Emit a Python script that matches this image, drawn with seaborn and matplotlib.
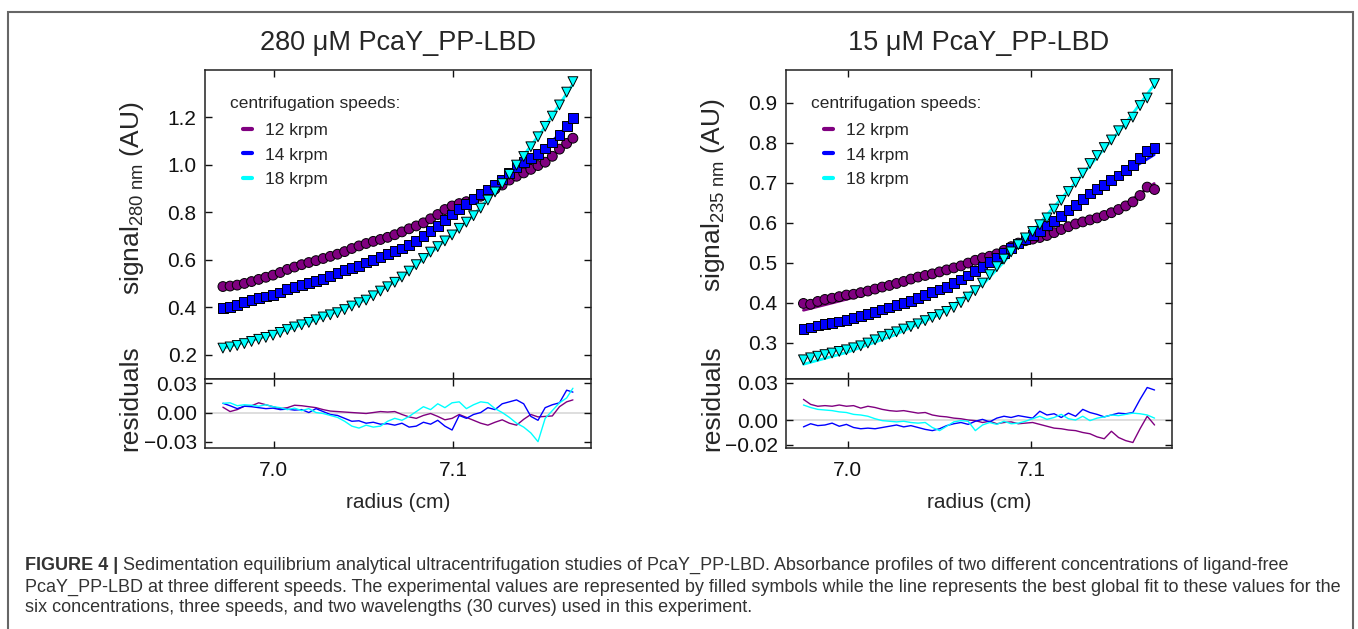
import matplotlib
matplotlib.use("Agg")
import pandas as pd
import matplotlib.pyplot as plt
from matplotlib.lines import Line2D
from matplotlib.patches import Rectangle
import seaborn as sns

# === Hardcoded data ===
speeds = ["12 krpm", "14 krpm", "18 krpm"]

# 280 uM panel, signal at 280 nm
radius_280 = [6.9715, 6.9755, 6.9795, 6.9835, 6.9875, 6.9915, 6.9955, 6.9995, 7.0035, 7.0075,
              7.0115, 7.0155, 7.0195, 7.0235, 7.0275, 7.0315, 7.0355, 7.0395, 7.0435, 7.0475,
              7.0515, 7.0555, 7.0595, 7.0635, 7.0675, 7.0715, 7.0755, 7.0795, 7.0835, 7.0875,
              7.0915, 7.0955, 7.0995, 7.1035, 7.1075, 7.1115, 7.1155, 7.1195, 7.1235, 7.1275,
              7.1315, 7.1355, 7.1395, 7.1435, 7.1475, 7.1515, 7.1555, 7.1595, 7.1635, 7.1670]
sig280_12 = [0.488, 0.490, 0.494, 0.501, 0.509, 0.518, 0.527, 0.536, 0.547, 0.560,
             0.570, 0.580, 0.589, 0.597, 0.606, 0.615, 0.624, 0.635, 0.648, 0.659,
             0.669, 0.678, 0.686, 0.695, 0.706, 0.718, 0.731, 0.743, 0.756, 0.773,
             0.791, 0.812, 0.827, 0.837, 0.845, 0.854, 0.868, 0.882, 0.898, 0.915,
             0.936, 0.952, 0.966, 0.981, 0.997, 1.011, 1.036, 1.066, 1.090, 1.112]
sig280_14 = [0.397, 0.402, 0.412, 0.422, 0.432, 0.440, 0.446, 0.452, 0.463, 0.476,
             0.486, 0.495, 0.504, 0.512, 0.521, 0.533, 0.545, 0.556, 0.565, 0.576,
             0.589, 0.601, 0.613, 0.624, 0.636, 0.648, 0.663, 0.680, 0.700, 0.721,
             0.743, 0.767, 0.791, 0.814, 0.834, 0.855, 0.876, 0.896, 0.917, 0.938,
             0.966, 0.992, 1.013, 1.030, 1.047, 1.069, 1.094, 1.125, 1.162, 1.196]
sig280_18 = [0.229, 0.234, 0.240, 0.248, 0.257, 0.266, 0.274, 0.283, 0.295, 0.307,
             0.318, 0.327, 0.337, 0.348, 0.360, 0.369, 0.378, 0.391, 0.406, 0.420,
             0.431, 0.449, 0.469, 0.487, 0.506, 0.528, 0.553, 0.580, 0.606, 0.633,
             0.656, 0.680, 0.705, 0.733, 0.759, 0.786, 0.818, 0.852, 0.886, 0.921,
             0.960, 0.999, 1.035, 1.076, 1.118, 1.162, 1.205, 1.252, 1.306, 1.350]
fit_radius_280 = [6.9715, 6.99, 7.01, 7.03, 7.05, 7.07, 7.09, 7.11, 7.13, 7.15, 7.167]
fit280_12 = [0.484, 0.513, 0.560, 0.610, 0.662, 0.715, 0.783, 0.853, 0.930, 1.010, 1.105]
fit280_14 = [0.395, 0.436, 0.480, 0.528, 0.584, 0.645, 0.730, 0.850, 0.955, 1.060, 1.185]
fit280_18 = [0.228, 0.266, 0.312, 0.366, 0.428, 0.518, 0.645, 0.776, 0.945, 1.145, 1.340]
res280_12 = [0.0055, 0.0010, 0.0030, 0.0065, 0.0070, 0.0100, 0.0080, 0.0060, 0.0040, 0.0050,
             0.0075, 0.0070, 0.0060, 0.0050, 0.0030, 0.0015, 0.0010, 0.0005, 0.0000, -0.0005,
             -0.0010, 0.0000, 0.0010, 0.0005, 0.0010, -0.0020, -0.0045, -0.0060, -0.0030, -0.0010,
             -0.0040, -0.0075, -0.0060, -0.0020, -0.0050, -0.0080, -0.0110, -0.0130, -0.0100, -0.0075,
             -0.0110, -0.0130, -0.0070, -0.0020, -0.0045, -0.0040, -0.0035, 0.0060, 0.0110, 0.0130]
res280_14 = [0.0095, 0.0070, 0.0040, 0.0065, 0.0060, 0.0050, 0.0040, 0.0045, 0.0030, 0.0035,
             0.0025, 0.0030, 0.0000, 0.0040, 0.0010, -0.0020, -0.0030, -0.0060, -0.0090, -0.0085,
             -0.0110, -0.0100, -0.0120, -0.0115, -0.0130, -0.0110, -0.0150, -0.0140, -0.0100, -0.0120,
             -0.0080, -0.0140, -0.0180, -0.0030, -0.0060, -0.0020, 0.0000, 0.0050, 0.0030, 0.0090,
             0.0110, 0.0130, 0.0090, -0.0040, -0.0080, 0.0050, 0.0080, 0.0100, 0.0230, 0.0210]
res280_18 = [0.0095, 0.0100, 0.0070, 0.0080, 0.0075, 0.0065, 0.0080, 0.0060, 0.0050, 0.0030,
             0.0045, 0.0020, 0.0040, 0.0000, -0.0010, -0.0030, -0.0050, -0.0090, -0.0140, -0.0160,
             -0.0130, -0.0150, -0.0140, -0.0090, -0.0060, -0.0080, -0.0040, 0.0010, 0.0060, 0.0030,
             0.0090, 0.0050, 0.0100, 0.0110, 0.0040, 0.0080, 0.0110, 0.0100, 0.0040, 0.0000,
             -0.0050, -0.0110, -0.0150, -0.0210, -0.0300, -0.0060, 0.0020, 0.0100, 0.0150, 0.0250]

# 15 uM panel, signal at 235 nm
radius_235 = [6.9760, 6.9799, 6.9838, 6.9877, 6.9916, 6.9955, 6.9994, 7.0033, 7.0072, 7.0111,
              7.0150, 7.0189, 7.0228, 7.0267, 7.0306, 7.0345, 7.0384, 7.0423, 7.0462, 7.0501,
              7.0540, 7.0579, 7.0618, 7.0657, 7.0696, 7.0735, 7.0774, 7.0813, 7.0852, 7.0891,
              7.0930, 7.0969, 7.1008, 7.1047, 7.1086, 7.1125, 7.1164, 7.1203, 7.1242, 7.1281,
              7.1320, 7.1359, 7.1398, 7.1437, 7.1476, 7.1515, 7.1554, 7.1593, 7.1632, 7.1672]
sig235_12 = [0.398, 0.396, 0.403, 0.408, 0.411, 0.415, 0.419, 0.421, 0.425, 0.429,
             0.434, 0.439, 0.443, 0.448, 0.453, 0.459, 0.464, 0.468, 0.472, 0.477,
             0.482, 0.487, 0.492, 0.499, 0.506, 0.512, 0.516, 0.522, 0.531, 0.540,
             0.549, 0.555, 0.559, 0.563, 0.568, 0.575, 0.583, 0.590, 0.597, 0.602,
             0.607, 0.612, 0.618, 0.625, 0.633, 0.642, 0.652, 0.668, 0.689, 0.683]
sig235_14 = [0.334, 0.338, 0.343, 0.346, 0.349, 0.353, 0.357, 0.362, 0.367, 0.372,
             0.377, 0.383, 0.388, 0.394, 0.399, 0.405, 0.412, 0.419, 0.426, 0.433,
             0.440, 0.449, 0.458, 0.468, 0.479, 0.490, 0.501, 0.511, 0.524, 0.537,
             0.548, 0.559, 0.569, 0.580, 0.593, 0.605, 0.617, 0.631, 0.645, 0.660,
             0.673, 0.684, 0.695, 0.706, 0.718, 0.732, 0.745, 0.762, 0.780, 0.787]
sig235_18 = [0.257, 0.262, 0.266, 0.270, 0.274, 0.278, 0.282, 0.287, 0.292, 0.299,
             0.307, 0.315, 0.321, 0.327, 0.334, 0.340, 0.347, 0.355, 0.363, 0.370,
             0.378, 0.388, 0.400, 0.414, 0.430, 0.449, 0.470, 0.490, 0.509, 0.527,
             0.545, 0.562, 0.578, 0.595, 0.612, 0.634, 0.656, 0.678, 0.701, 0.724,
             0.748, 0.768, 0.788, 0.807, 0.830, 0.846, 0.864, 0.893, 0.912, 0.948]
fit_radius_235 = [6.976, 7.0, 7.025, 7.05, 7.075, 7.1, 7.125, 7.15, 7.167]
fit235_12 = [0.381, 0.409, 0.440, 0.474, 0.511, 0.554, 0.596, 0.642, 0.698]
fit235_14 = [0.335, 0.356, 0.390, 0.431, 0.490, 0.566, 0.645, 0.722, 0.770]
fit235_18 = [0.246, 0.276, 0.318, 0.370, 0.452, 0.575, 0.705, 0.840, 0.945]
res235_12 = [0.0165, 0.0125, 0.0110, 0.0115, 0.0110, 0.0120, 0.0110, 0.0115, 0.0095, 0.0110,
             0.0100, 0.0085, 0.0075, 0.0070, 0.0075, 0.0065, 0.0055, 0.0060, 0.0040, 0.0030,
             0.0025, 0.0015, 0.0010, 0.0000, -0.0005, -0.0020, -0.0010, -0.0030, -0.0020, -0.0015,
             -0.0030, -0.0025, -0.0020, -0.0035, -0.0050, -0.0065, -0.0070, -0.0080, -0.0085, -0.0100,
             -0.0110, -0.0135, -0.0150, -0.0090, -0.0140, -0.0165, -0.0180, -0.0070, 0.0030, -0.0040]
res235_14 = [-0.0055, -0.0030, -0.0045, -0.0040, -0.0025, -0.0050, -0.0035, -0.0060, -0.0070, -0.0065,
             -0.0070, -0.0060, -0.0050, -0.0040, -0.0055, -0.0045, -0.0060, -0.0075, -0.0085, -0.0070,
             -0.0045, -0.0030, -0.0020, -0.0035, -0.0010, 0.0005, -0.0015, 0.0015, 0.0030, 0.0020,
             0.0035, 0.0025, 0.0015, 0.0070, 0.0040, 0.0050, 0.0020, 0.0055, 0.0030, 0.0085,
             0.0060, 0.0045, 0.0025, 0.0040, 0.0055, 0.0050, 0.0060, 0.0165, 0.0260, 0.0240]
res235_18 = [0.0120, 0.0100, 0.0085, 0.0080, 0.0075, 0.0065, 0.0060, 0.0045, 0.0040, 0.0030,
             0.0010, -0.0005, -0.0010, -0.0015, -0.0010, -0.0020, -0.0025, -0.0020, -0.0060, -0.0085,
             -0.0050, -0.0015, -0.0005, -0.0010, -0.0085, -0.0040, -0.0020, -0.0035, -0.0010, -0.0030,
             -0.0025, -0.0010, 0.0010, 0.0030, 0.0005, 0.0020, 0.0045, 0.0010, 0.0000, 0.0030,
             -0.0005, 0.0015, 0.0025, 0.0040, 0.0035, 0.0045, 0.0055, 0.0050, 0.0040, 0.0015]

caption_head = "FIGURE 4 |"
caption_lines = [
    "Sedimentation equilibrium analytical ultracentrifugation studies of PcaY_PP-LBD. "
    "Absorbance profiles of two different concentrations of ligand-free",
    "PcaY_PP-LBD at three different speeds. The experimental values are represented by filled symbols "
    "while the line represents the best global fit to these values for the",
    "six concentrations, three speeds, and two wavelengths (30 curves) used in this experiment.",
]

# === Styles ===
sns.set_style("ticks")
plt.rcParams["font.family"] = ["Liberation Sans", "DejaVu Sans"]
plt.rcParams["mathtext.fontset"] = "custom"
plt.rcParams["mathtext.rm"] = "Liberation Sans"
plt.rcParams["mathtext.it"] = "Liberation Sans:italic"

palette = dict(zip(speeds, ["#800080", "#0000ff", "#00ffff"]))
markers = dict(zip(speeds, ["o", "s", "v"]))
tick_fs = 15
caption_font = {"size": 13, "color": "#333333"}


def long_frame(radius, series):
    parts = [pd.DataFrame({"radius": radius, "value": vals, "speed": sp})
             for sp, vals in zip(speeds, series)]
    return pd.concat(parts, ignore_index=True)


def draw_panel(ax, axr, radius, sigs, fit_radius, fits, resids, ylim, yticks,
               rlim, rticks, rlabels, xlim):
    fit_df = long_frame(fit_radius, fits)
    sig_df = long_frame(radius, sigs)
    res_df = long_frame(radius, resids)

    sns.lineplot(data=fit_df, x="radius", y="value", hue="speed", palette=palette,
                 estimator=None, sort=False, linewidth=2, legend=False, ax=ax)
    sns.scatterplot(data=sig_df, x="radius", y="value", hue="speed", style="speed",
                    palette=palette, markers=markers, s=50, edgecolor="black",
                    linewidth=0.7, legend=False, ax=ax, zorder=3)
    axr.axhline(0, color="#d8d8d8", linewidth=1.2, zorder=0)
    sns.lineplot(data=res_df, x="radius", y="value", hue="speed", palette=palette,
                 estimator=None, sort=False, linewidth=1.0, legend=False, ax=axr)

    for a in (ax, axr):
        a.set_xlim(*xlim)
        a.set_xticks([7.0, 7.1])
        a.set_xlabel("")
        a.set_ylabel("")
        a.tick_params(direction="in", top=True, right=True, length=5, width=1,
                      labelsize=tick_fs, pad=6, colors="#111111")
        a.tick_params(axis="x", pad=9)
        for sp in a.spines.values():
            sp.set_visible(True)
            sp.set_linewidth(1.1)
            sp.set_color("#222222")
    ax.set_ylim(*ylim)
    ax.set_yticks(yticks)
    ax.set_yticklabels([f"{v:.1f}" for v in yticks])
    ax.tick_params(labelbottom=False)
    axr.set_ylim(*rlim)
    axr.set_yticks(rticks)
    axr.set_yticklabels(rlabels)
    axr.set_xticklabels(["7.0", "7.1"])

    ax.text(0.065, 0.892, "centrifugation speeds:", transform=ax.transAxes,
            fontsize=12.5, ha="left", va="center")
    handles = [Line2D([], [], color=palette[sp], linewidth=3) for sp in speeds]
    ax.legend(handles, speeds, loc="upper left", bbox_to_anchor=(0.098, 0.829),
              frameon=False, fontsize=12.5, handlelength=0.55, handletextpad=0.7,
              labelspacing=0.54, borderpad=0, borderaxespad=0)


# === Plot ===
W, H = 1358, 629
fig = plt.figure(figsize=(W / 100, H / 100), dpi=100)


def box(l, t, r, b):
    return [l / W, 1 - b / H, (r - l) / W, (b - t) / H]


axL = fig.add_axes(box(205, 70, 591, 379))
axLr = fig.add_axes(box(205, 379, 591, 448))
axR = fig.add_axes(box(786, 70, 1172, 379))
axRr = fig.add_axes(box(786, 379, 1172, 448))

draw_panel(axL, axLr, radius_280, [sig280_12, sig280_14, sig280_18], fit_radius_280,
           [fit280_12, fit280_14, fit280_18], [res280_12, res280_14, res280_18],
           (0.099, 1.399), [0.2, 0.4, 0.6, 0.8, 1.0, 1.2],
           (-0.0365, 0.0345), [0.03, 0.0, -0.03], ["0.03", "0.00", "\u22120.03"],
           (6.9615, 7.1771))
draw_panel(axR, axRr, radius_235, [sig235_12, sig235_14, sig235_18], fit_radius_235,
           [fit235_12, fit235_14, fit235_18], [res235_12, res235_14, res235_18],
           (0.209, 0.982), [0.3, 0.4, 0.5, 0.6, 0.7, 0.8, 0.9],
           (-0.0224, 0.0328), [0.03, 0.0, -0.02], ["0.03", "0.00", "\u22120.02"],
           (6.9665, 7.1767))

# titles and axis labels
fig.text(398 / W, 1 - 43 / H, "280 \u03bcM PcaY_PP-LBD", fontsize=19.5, ha="center", va="center")
fig.text(979 / W, 1 - 43 / H, "15 \u03bcM PcaY_PP-LBD", fontsize=19.5, ha="center", va="center")
fig.text(132 / W, 1 - 198 / H, r"signal$_{\mathrm{280\ nm}}$ (AU)", fontsize=19,
         rotation=90, ha="center", va="center")
fig.text(713 / W, 1 - 195 / H, r"signal$_{\mathrm{235\ nm}}$ (AU)", fontsize=19,
         rotation=90, ha="center", va="center")
fig.text(130 / W, 1 - 398 / H, "residuals", fontsize=19, rotation=90, ha="center", va="center")
fig.text(712 / W, 1 - 398 / H, "residuals", fontsize=19, rotation=90, ha="center", va="center")
fig.text(398 / W, 1 - 503 / H, "radius (cm)", fontsize=15, ha="center", va="center")
fig.text(979 / W, 1 - 503 / H, "radius (cm)", fontsize=15, ha="center", va="center")

# caption: bold lead-in, then the rest of the first line right after it
renderer = fig.canvas.get_renderer()
head = fig.text(25 / W, 1 - 565 / H, caption_head, fontdict=caption_font, weight="bold",
                ha="left", va="center")
head_right = head.get_window_extent(renderer).x1
fig.text((head_right + 5) / W, 1 - 565 / H, caption_lines[0], fontdict=caption_font,
         ha="left", va="center")
for y_px, line in zip([587, 608], caption_lines[1:]):
    fig.text(25 / W, 1 - y_px / H, line, fontdict=caption_font, ha="left", va="center")

# outer frame
fig.add_artist(Rectangle((8 / W, -0.02), 1345 / W, 1 - 12 / H + 0.02, transform=fig.transFigure,
                         fill=False, edgecolor="#666666", linewidth=1.5))

fig.savefig("out.png", dpi=100)
